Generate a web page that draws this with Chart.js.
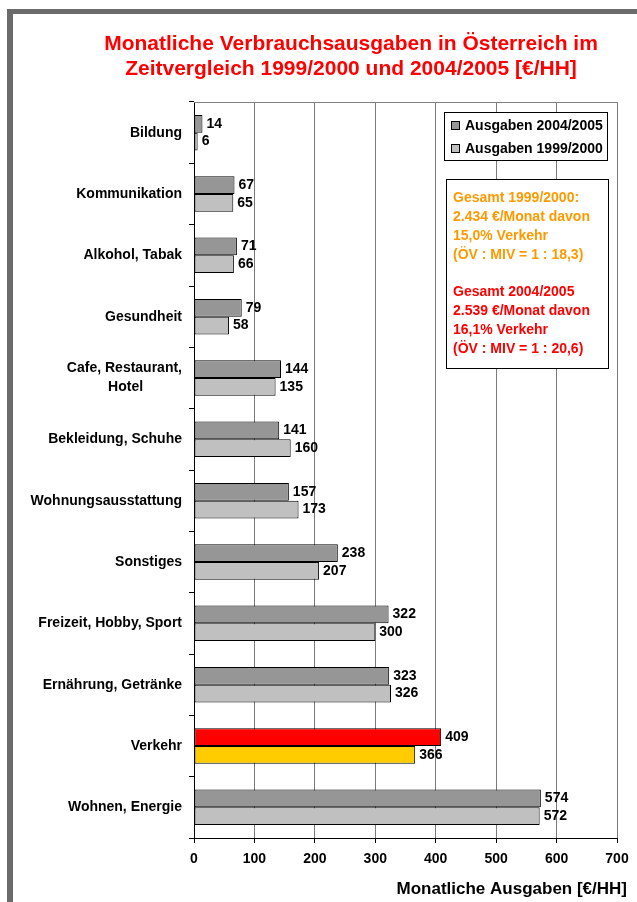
<!DOCTYPE html>
<html>
<head>
<meta charset="utf-8">
<script src="https://cdn.jsdelivr.net/npm/chart.js@4/dist/chart.umd.min.js"></script>
<style>
  html, body { margin: 0; padding: 0; background: #fff; }
  canvas { display: block; }
</style>
</head>
<body>
<canvas id="chart" width="637" height="902"></canvas>
<script>
// Ausgabenkategorien (von oben nach unten)
const categories = [
  'Bildung',
  'Kommunikation',
  'Alkohol, Tabak',
  'Gesundheit',
  ['Cafe, Restaurant,', 'Hotel          '],
  'Bekleidung, Schuhe',
  'Wohnungsausstattung',
  'Sonstiges',
  'Freizeit, Hobby, Sport',
  'Ernährung, Getränke',
  'Verkehr',
  'Wohnen, Energie'
];

// Monatliche Ausgaben je Haushalt in €
const ausgaben2004 = [14, 67, 71, 79, 144, 141, 157, 238, 322, 323, 409, 574];
const ausgaben1999 = [6, 65, 66, 58, 135, 160, 173, 207, 300, 326, 366, 572];

const xTicks = [0, 100, 200, 300, 400, 500, 600, 700];
const seriesLabels = ['Ausgaben 2004/2005', 'Ausgaben 1999/2000'];
const highlightCategory = 'Verkehr';

const titleLines = [
  'Monatliche Verbrauchsausgaben in Österreich im',
  'Zeitvergleich 1999/2000 und 2004/2005 [€/HH]'
];
const axisTitle = 'Monatliche Ausgaben [€/HH]';
const noteOld = ['Gesamt 1999/2000:', '2.434 €/Monat davon', '15,0% Verkehr', '(ÖV : MIV = 1 : 18,3)'];
const noteNew = ['Gesamt 2004/2005', '2.539 €/Monat davon', '16,1% Verkehr', '(ÖV : MIV = 1 : 20,6)'];

const FONT = '"Liberation Sans", Arial, sans-serif';
const bold = (size) => 'bold ' + size + 'px ' + FONT;

const colors2004 = categories.map(c => c === highlightCategory ? '#FF0000' : '#969696');
const colors1999 = categories.map(c => c === highlightCategory ? '#FFCC00' : '#C0C0C0');

// Rahmen, Titel, Achsentitel, Legende und Infobox
const decorations = {
  id: 'decorations',
  beforeDraw(chart) {
    const ctx = chart.ctx;
    ctx.save();
    ctx.fillStyle = '#ffffff';
    ctx.fillRect(0, 0, chart.width, chart.height);
    ctx.fillStyle = '#6b6b6b';
    ctx.fillRect(7, 9, 6, chart.height - 9);
    ctx.fillRect(7, 9, chart.width - 7, 5);

    ctx.fillStyle = '#FF0000';
    ctx.font = bold(21);
    ctx.textAlign = 'center';
    ctx.textBaseline = 'alphabetic';
    ctx.fillText(titleLines[0], 351, 50);
    ctx.fillText(titleLines[1], 351, 75);
    ctx.restore();
  },
  beforeDatasetsDraw(chart) {
    const {ctx, chartArea} = chart;
    ctx.save();
    ctx.strokeStyle = '#808080';
    ctx.lineWidth = 1;
    ctx.beginPath();
    ctx.moveTo(chartArea.left, chartArea.top + 0.5);
    ctx.lineTo(chartArea.right, chartArea.top + 0.5);
    ctx.stroke();
    ctx.restore();
  },
  afterDraw(chart) {
    const ctx = chart.ctx;
    ctx.save();
    // Achsentitel
    ctx.fillStyle = '#000';
    ctx.font = bold(17);
    ctx.textAlign = 'right';
    ctx.textBaseline = 'middle';
    ctx.fillText(axisTitle, 627, 889);

    // Legende
    ctx.fillStyle = '#fff';
    ctx.fillRect(444.5, 112.5, 163, 48);
    ctx.strokeStyle = '#000';
    ctx.lineWidth = 1;
    ctx.strokeRect(444.5, 112.5, 163, 48);
    chart.data.datasets.forEach((ds, i) => {
      const y = 126 + i * 23;
      ctx.fillStyle = i === 0 ? '#969696' : '#C0C0C0';
      ctx.fillRect(451.5, y - 4.5, 8, 8);
      ctx.strokeRect(451.5, y - 4.5, 8, 8);
      ctx.fillStyle = '#000';
      ctx.font = bold(14);
      ctx.textAlign = 'left';
      ctx.textBaseline = 'middle';
      ctx.fillText(ds.label, 465, y + 0.5);
    });

    // Infobox
    ctx.fillStyle = '#fff';
    ctx.fillRect(446.5, 179.5, 162, 189);
    ctx.strokeRect(446.5, 179.5, 162, 189);
    ctx.font = bold(14);
    ctx.textAlign = 'left';
    ctx.textBaseline = 'middle';
    ctx.fillStyle = '#FF9900';
    noteOld.forEach((t, i) => ctx.fillText(t, 453, 198 + i * 19));
    ctx.fillStyle = '#FF0000';
    noteNew.forEach((t, i) => ctx.fillText(t, 453, 292 + i * 19));
    ctx.restore();
  }
};

// Wertbeschriftung rechts neben jedem Balken
const valueLabels = {
  id: 'valueLabels',
  afterDatasetsDraw(chart) {
    const ctx = chart.ctx;
    ctx.save();
    ctx.fillStyle = '#000';
    ctx.font = bold(14);
    ctx.textAlign = 'left';
    ctx.textBaseline = 'middle';
    chart.data.datasets.forEach((ds, i) => {
      chart.getDatasetMeta(i).data.forEach((bar, j) => {
        ctx.fillText(String(ds.data[j]), bar.x + 4, bar.y);
      });
    });
    ctx.restore();
  }
};

new Chart(document.getElementById('chart'), {
  type: 'bar',
  data: {
    labels: categories,
    datasets: [
      {
        label: seriesLabels[0],
        data: ausgaben2004,
        backgroundColor: colors2004,
        borderColor: '#000',
        borderWidth: 1,
        borderSkipped: false,
        categoryPercentage: 0.58,
        barPercentage: 1.0
      },
      {
        label: seriesLabels[1],
        data: ausgaben1999,
        backgroundColor: colors1999,
        borderColor: '#000',
        borderWidth: 1,
        borderSkipped: false,
        categoryPercentage: 0.58,
        barPercentage: 1.0
      }
    ]
  },
  options: {
    indexAxis: 'y',
    responsive: false,
    animation: false,
    layout: { padding: { top: 102, right: 20, bottom: 0, left: 0 } },
    plugins: {
      legend: { display: false },
      title: { display: false },
      tooltip: { enabled: false }
    },
    scales: {
      x: {
        min: 0,
        max: 700,
        afterBuildTicks(scale) { scale.ticks = xTicks.map(v => ({ value: v })); },
        afterFit(scale) { scale.height = 64; },
        ticks: { color: '#000', font: { family: FONT, size: 14, weight: 'bold' }, padding: 8 },
        grid: { color: '#7a7a7a', lineWidth: 1, tickColor: '#000', tickLength: 5 },
        border: { color: '#000', width: 1 }
      },
      y: {
        afterFit(scale) { scale.width = 194; },
        ticks: {
          color: '#000',
          font: { family: FONT, size: 14, weight: 'bold', lineHeight: 1.36 },
          padding: 7
        },
        grid: { drawOnChartArea: false, tickColor: '#000', tickLength: 5, offset: true },
        border: { color: '#000', width: 1 }
      }
    }
  },
  plugins: [decorations, valueLabels]
});
</script>
</body>
</html>
